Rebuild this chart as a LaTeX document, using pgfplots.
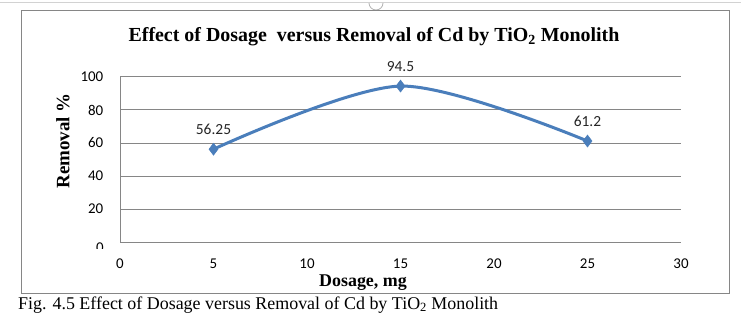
\documentclass[border=0pt]{standalone}
\usepackage{pgfplots}
\pgfplotsset{compat=1.18}
\usepackage{fontspec}
\setmainfont{Liberation Serif}
\newfontfamily\calfont{Carlito}
\definecolor{ser}{HTML}{4A7EBB}
\definecolor{grd}{HTML}{868686}
\begin{document}
\begin{tikzpicture}[x=1bp,y=1bp]
\path[use as bounding box] (0,0) rectangle (741,324);
\fill[white] (0,0) rectangle (741,324);
\draw[gray!35, line width=1bp] (0,321) -- (741,321);
\draw[gray!60, line width=0.8bp] (369,321) arc (180:360:7);
\draw[grd, line width=1bp] (21,31) rectangle (729,313);
\begin{axis}[at={(120bp,82bp)}, anchor=south west, scale only axis,
  width=561bp, height=165bp,
  xmin=0, xmax=30, ymin=0, ymax=100,
  xtick={0,5,...,30}, ytick={0,20,...,100},
  yticklabels={,20,40,60,80,100},
  /pgf/number format/assume math mode=true,
  axis x line=bottom, axis y line=left,
  axis line style={grd, line width=1bp, -},
  ymajorgrids, grid style={grd, line width=1bp},
  major tick length=0pt,
  tick label style={font=\calfont\fontsize{15}{18}\selectfont, text=black},
  yticklabel style={anchor=east, inner sep=0pt, xshift=-16.5bp},
  xticklabel style={anchor=center, inner sep=0pt, yshift=-22bp},
  clip=false]
\addplot[ser, line width=3bp, smooth, mark=diamond*, mark size=6bp,
  mark options={fill=ser, solid, line width=0.5bp},
  nodes near coords, point meta=explicit symbolic,
  nodes near coords style={font=\calfont\fontsize{15.5}{18}\selectfont, text=black!85, anchor=center, yshift=20bp}]
  coordinates {(5,56.25)[56.25] (15,94.5)[94.5] (25,61.2)[61.2]};
\end{axis}
\begin{scope}
\clip (88,76) rectangle (114,82);
\node[anchor=north, inner sep=0pt, font=\calfont\fontsize{15}{18}\selectfont] at (100,81) {0};
\end{scope}
\node[anchor=base, inner sep=0pt, font=\bfseries\fontsize{20}{23}\selectfont] at (374,283) {Effect of Dosage\ \ versus Removal of Cd by TiO\textsubscript{2} Monolith};
\node[rotate=90, inner sep=0pt, font=\bfseries\fontsize{19}{22}\selectfont] at (63,183) {Removal \%};
\node[anchor=base, inner sep=0pt, font=\bfseries\fontsize{18}{21}\selectfont] at (363,38) {Dosage, mg};
\node[anchor=base west, inner sep=0pt, font=\fontsize{18}{21}\selectfont] at (18,15) {Fig. 4.5 Effect of Dosage versus Removal of Cd by TiO\textsubscript{2} Monolith};
\end{tikzpicture}
\end{document}
